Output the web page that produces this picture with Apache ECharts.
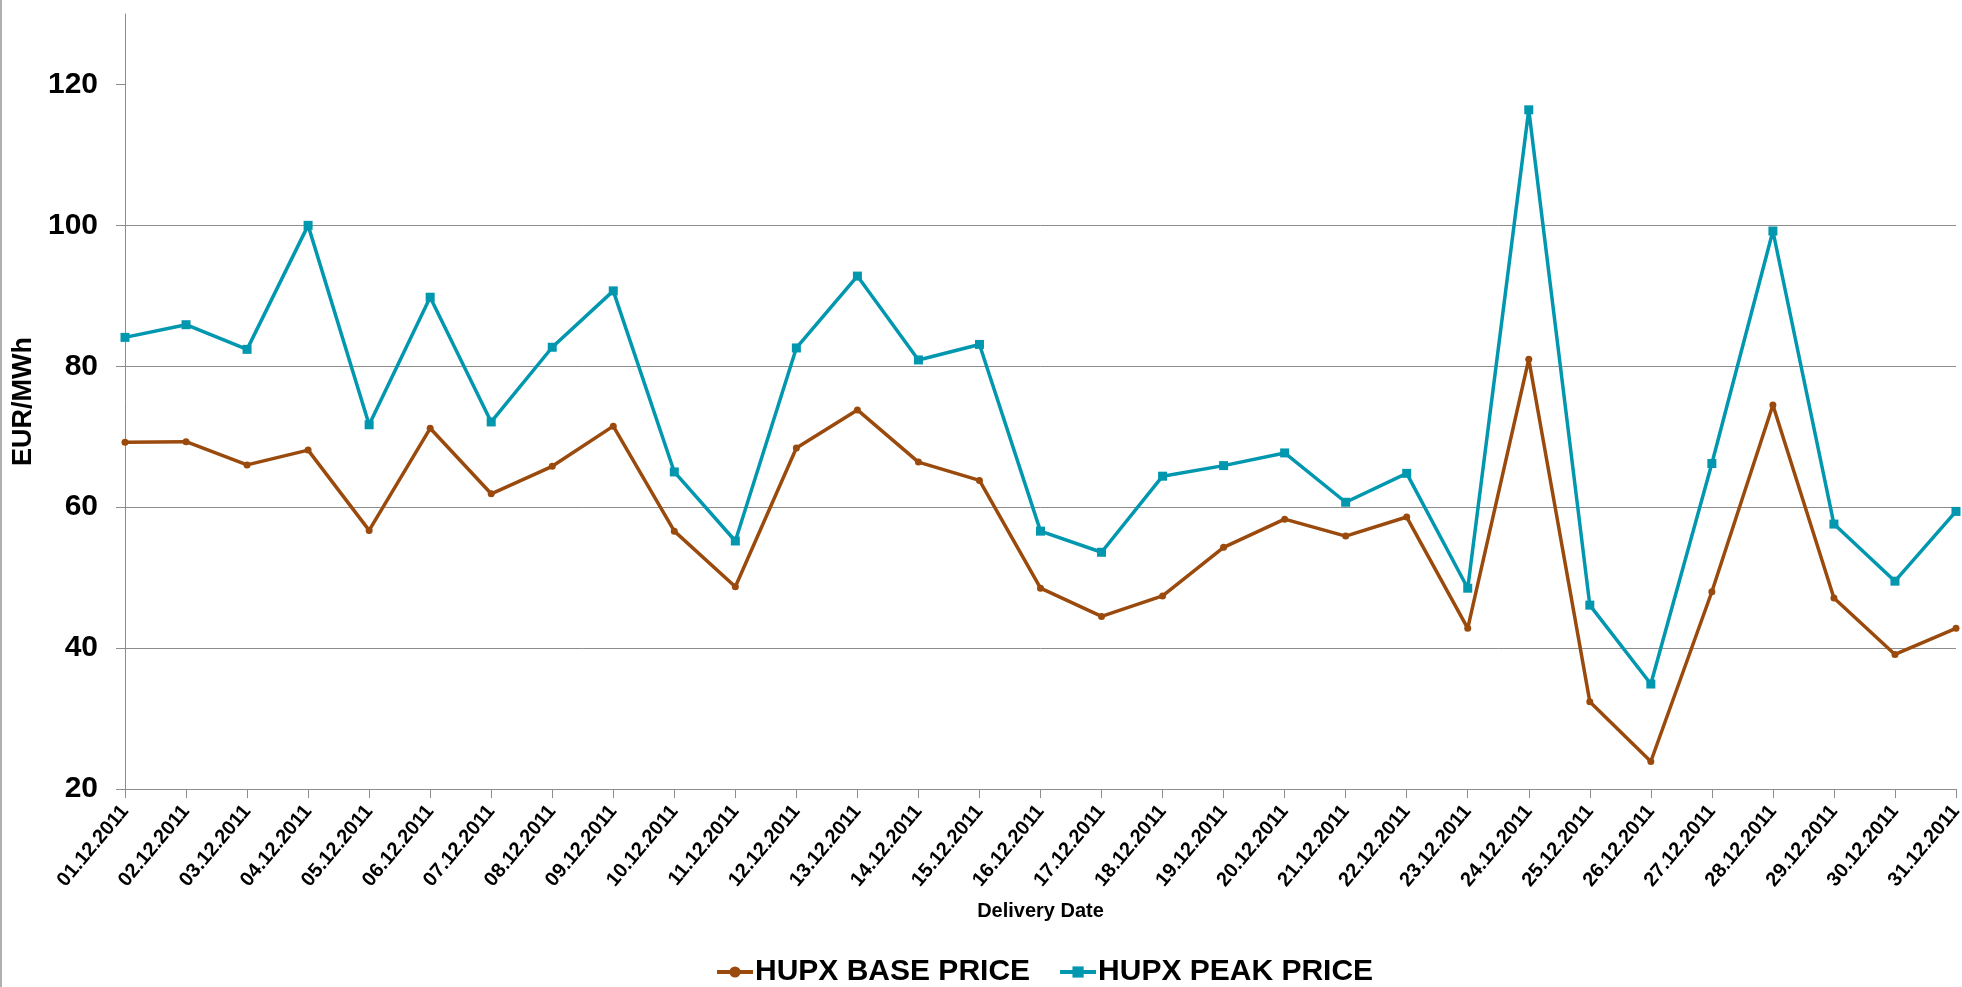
<!DOCTYPE html>
<html>
<head>
<meta charset="utf-8">
<script src="https://cdn.jsdelivr.net/npm/echarts@6/dist/echarts.min.js"></script>
<style>
  html, body { margin: 0; padding: 0; background: #ffffff; }
  #chart { width: 1962px; height: 987px; }
</style>
</head>
<body>
<div id="chart"></div>
<script>
const categories = ['01.12.2011','02.12.2011','03.12.2011','04.12.2011','05.12.2011','06.12.2011','07.12.2011','08.12.2011','09.12.2011','10.12.2011','11.12.2011','12.12.2011','13.12.2011','14.12.2011','15.12.2011','16.12.2011','17.12.2011','18.12.2011','19.12.2011','20.12.2011','21.12.2011','22.12.2011','23.12.2011','24.12.2011','25.12.2011','26.12.2011','27.12.2011','28.12.2011','29.12.2011','30.12.2011','31.12.2011'];
const basePrice = [69.2, 69.3, 66.0, 68.1, 56.7, 71.2, 61.9, 65.8, 71.5, 56.6, 48.7, 68.4, 73.8, 66.4, 63.8, 48.5, 44.5, 47.4, 54.3, 58.3, 55.9, 58.6, 42.8, 81.0, 32.4, 23.9, 48.0, 74.5, 47.1, 39.1, 42.8];
const peakPrice = [84.1, 85.9, 82.4, 100.0, 71.7, 89.8, 72.1, 82.7, 90.7, 65.0, 55.2, 82.6, 92.8, 80.9, 83.1, 56.6, 53.6, 64.4, 65.9, 67.7, 60.7, 64.8, 48.5, 116.4, 46.1, 34.9, 66.2, 99.2, 57.6, 49.5, 59.4];
const yTicks = [20, 40, 60, 80, 100, 120];
const seriesNames = ['HUPX BASE PRICE', 'HUPX PEAK PRICE'];

const FONT = "'Liberation Sans', Arial, sans-serif";
const AXIS_GRAY = '#8c8c8c';
const BROWN = '#9a4a0c';
const TEAL = '#0097af';

const chart = echarts.init(document.getElementById('chart'), null, { renderer: 'canvas' });
chart.setOption({
  animation: false,
  backgroundColor: '#ffffff',
  textStyle: { fontFamily: FONT },
  graphic: [{
    type: 'line',
    shape: { x1: 1, y1: 0, x2: 1, y2: 987 },
    style: { stroke: '#b0b0b0', lineWidth: 2 }
  }],
  grid: { left: 125, right: 6, top: 14, bottom: 198, containLabel: false, outerBoundsMode: 'none' },
  legend: {
    data: seriesNames,
    left: 715,
    top: 957,
    padding: 0,
    itemGap: 28,
    itemWidth: 36,
    itemHeight: 14,
    lineStyle: { width: 4 },
    textStyle: { fontFamily: FONT, fontSize: 30, fontWeight: 'bold', color: '#000', padding: [0, 0, 0, -3] }
  },
  xAxis: {
    type: 'category',
    data: categories,
    boundaryGap: false,
    name: 'Delivery Date',
    nameLocation: 'middle',
    nameGap: 112,
    nameTextStyle: { fontFamily: FONT, fontSize: 20, fontWeight: 'bold', color: '#000' },
    axisLine: { show: true, lineStyle: { color: AXIS_GRAY, width: 1 } },
    axisTick: { show: true, alignWithLabel: true, length: 9, lineStyle: { color: AXIS_GRAY } },
    axisLabel: {
      interval: 0,
      rotate: 50,
      margin: 19,
      fontFamily: FONT,
      fontSize: 20,
      fontWeight: 'bold',
      color: '#000'
    },
    splitLine: { show: false }
  },
  yAxis: {
    type: 'value',
    min: 20,
    max: 130,
    interval: 20,
    name: 'EUR/MWh',
    nameLocation: 'middle',
    nameGap: 83,
    nameTextStyle: { fontFamily: FONT, fontSize: 27, fontWeight: 'bold', color: '#000' },
    axisLine: { show: true, lineStyle: { color: AXIS_GRAY, width: 1 } },
    axisTick: { show: true, length: 9, lineStyle: { color: AXIS_GRAY }, customValues: yTicks },
    axisLabel: {
      margin: 27,
      fontFamily: FONT,
      fontSize: 30,
      fontWeight: 'bold',
      color: '#000',
      customValues: yTicks
    },
    splitLine: { show: true, showMaxLine: false, lineStyle: { color: AXIS_GRAY, width: 1 } }
  },
  series: [
    {
      name: seriesNames[0],
      type: 'line',
      data: basePrice,
      symbol: 'circle',
      symbolSize: 7,
      lineStyle: { color: BROWN, width: 3.5 },
      itemStyle: { color: BROWN },
      z: 2
    },
    {
      name: seriesNames[1],
      type: 'line',
      data: peakPrice,
      symbol: 'rect',
      symbolSize: 9,
      lineStyle: { color: TEAL, width: 3.5 },
      itemStyle: { color: TEAL },
      z: 3
    }
  ]
});
</script>
</body>
</html>
